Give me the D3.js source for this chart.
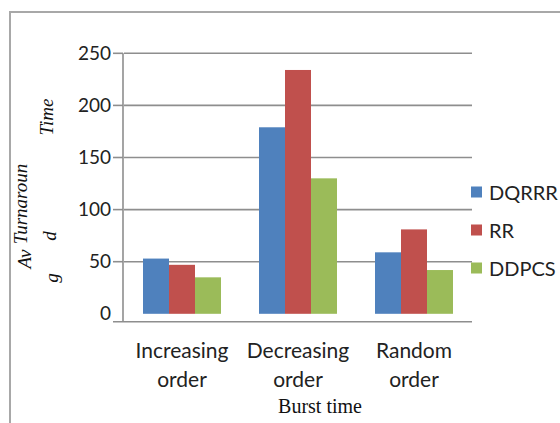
<!DOCTYPE html>
<html>
<head>
<meta charset="utf-8">
<script src="https://cdn.jsdelivr.net/npm/d3@7/dist/d3.min.js"></script>
<style>
  html, body { margin: 0; padding: 0; background: #fff; }
  svg { display: block; }
</style>
</head>
<body>
<svg id="chart" width="560" height="423"></svg>
<script>
// Average turnaround time per burst-time ordering
const categories = ["Increasing order", "Decreasing order", "Random order"];
const seriesNames = ["DQRRR", "RR", "DDPCS"];
const dqrrr = [53, 179, 59];
const rr = [47, 234, 81];
const ddpcs = [35, 130, 42];
const yTicks = [0, 50, 100, 150, 200, 250];
const colors = ["#4F81BD", "#C0504D", "#9BBB59"];

const seriesValues = [dqrrr, rr, ddpcs];
const rows = categories.map((c, i) => ({
  category: c,
  values: seriesNames.map((s, j) => ({ series: s, value: seriesValues[j][i] }))
}));

const svg = d3.select("#chart");
const gridColor = "#8e8e8e";
const textColor = "#222";
const sans = "Lato, 'Open Sans', sans-serif";
const serif = "'Liberation Serif', 'DejaVu Serif', serif";

// outer frame (top and left edges)
svg.append("path")
  .attr("d", "M10,423V12H560")
  .attr("fill", "none")
  .attr("stroke", "#a8a8a8")
  .attr("stroke-width", 2);

const plot = { left: 124, right: 472, top: 53.3, bottom: 313.8 };
const axisY = plot.bottom + 8; // category axis line sits a little below the bar bases

const y = d3.scaleLinear().domain([0, 250]).range([plot.bottom, plot.top]);
const x0 = d3.scaleBand().domain(categories).range([plot.left, plot.right]).padding(0);
const x1 = d3.scaleBand().domain(seriesNames).range([0, x0.bandwidth()])
  .paddingInner(0).paddingOuter(0.731);

// horizontal gridlines
svg.append("g").selectAll("line")
  .data(yTicks.filter(t => t > 0))
  .join("line")
  .attr("x1", plot.left).attr("x2", plot.right)
  .attr("y1", d => y(d)).attr("y2", d => y(d))
  .attr("stroke", gridColor).attr("stroke-width", 1.6);

// value axis: labels from the axis generator, line and ticks drawn alongside
const yAxis = svg.append("g")
  .attr("transform", `translate(${plot.left - 11},0)`)
  .call(d3.axisLeft(y).tickValues(yTicks).tickSize(0).tickPadding(2));
yAxis.select(".domain").remove();
yAxis.selectAll("text")
  .attr("font-family", sans)
  .attr("font-size", 19)
  .attr("fill", textColor);

svg.append("line")
  .attr("x1", plot.left - 1).attr("x2", plot.left - 1)
  .attr("y1", plot.top).attr("y2", axisY)
  .attr("stroke", gridColor).attr("stroke-width", 1.6);
svg.append("g").selectAll("line")
  .data(yTicks.filter(t => t > 0))
  .join("line")
  .attr("x1", plot.left - 11).attr("x2", plot.left - 1)
  .attr("y1", d => y(d)).attr("y2", d => y(d))
  .attr("stroke", gridColor).attr("stroke-width", 1.6);

// category axis line
svg.append("line")
  .attr("x1", plot.left - 11).attr("x2", plot.right)
  .attr("y1", axisY).attr("y2", axisY)
  .attr("stroke", gridColor).attr("stroke-width", 1.6);

// bars
const groups = svg.append("g").selectAll("g")
  .data(rows)
  .join("g")
  .attr("transform", d => `translate(${x0(d.category)},0)`);
groups.selectAll("rect")
  .data(d => d.values)
  .join("rect")
  .attr("x", d => x1(d.series))
  .attr("width", x1.bandwidth())
  .attr("y", d => y(d.value))
  .attr("height", d => y(0) - y(d.value))
  .attr("fill", (d, i) => colors[i]);

// category labels, two lines each
const catLabels = svg.append("g").selectAll("text")
  .data(categories)
  .join("text")
  .attr("x", d => x0(d) + x0.bandwidth() / 2)
  .attr("y", 358)
  .attr("text-anchor", "middle")
  .attr("font-family", sans)
  .attr("font-size", 21)
  .attr("fill", textColor);
catLabels.selectAll("tspan")
  .data(d => d.split(" "))
  .join("tspan")
  .attr("x", function () { return d3.select(this.parentNode).attr("x"); })
  .attr("dy", (d, i) => i === 0 ? 0 : 28.5)
  .text(d => d);

// category axis title
svg.append("text")
  .attr("x", 320).attr("y", 413)
  .attr("text-anchor", "middle")
  .attr("font-family", serif)
  .attr("font-size", 20)
  .attr("fill", "#111")
  .text("Burst time");

// value axis title, wrapped into narrow cells
const yTitleParts = [
  { text: "Av", cx: 24, cy: 259 },
  { text: "g", cx: 51, cy: 278 },
  { text: "Turnaroun", cx: 20, cy: 204 },
  { text: "d", cx: 49, cy: 236 },
  { text: "Time", cx: 46, cy: 117 }
];
svg.append("g").selectAll("text")
  .data(yTitleParts)
  .join("text")
  .attr("transform", d => `translate(${d.cx},${d.cy}) rotate(-90)`)
  .attr("text-anchor", "middle")
  .attr("dominant-baseline", "central")
  .attr("font-family", serif)
  .attr("font-style", "italic")
  .attr("font-size", 19)
  .attr("fill", "#111")
  .text(d => d.text);

// legend
const legend = svg.append("g").selectAll("g")
  .data(seriesNames)
  .join("g")
  .attr("transform", (d, i) => `translate(471,${192 + i * 38})`);
legend.append("rect")
  .attr("x", 0).attr("y", -5.5)
  .attr("width", 11).attr("height", 11)
  .attr("fill", (d, i) => colors[i]);
legend.append("text")
  .attr("x", 18).attr("y", 0)
  .attr("dominant-baseline", "central")
  .attr("font-family", sans)
  .attr("font-size", 20)
  .attr("fill", textColor)
  .text(d => d);
</script>
</body>
</html>
